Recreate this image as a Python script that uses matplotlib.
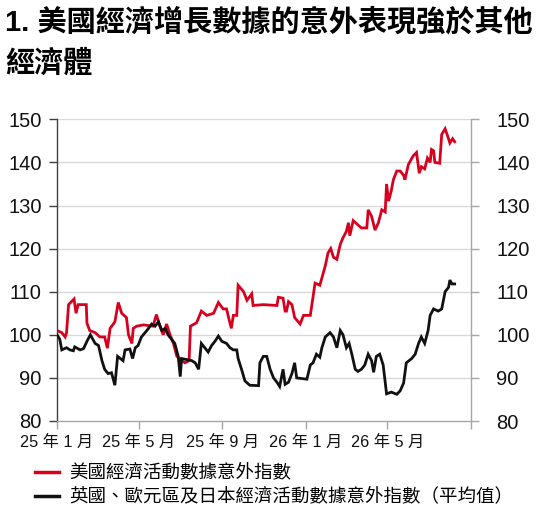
import matplotlib
matplotlib.use('Agg')
import matplotlib.pyplot as plt
from matplotlib import font_manager
from matplotlib.lines import Line2D
from matplotlib.transforms import ScaledTranslation
import datetime as dt

# ---------------- data ----------------
us_dates = ['2025-01-01','2025-01-08','2025-01-13','2025-01-15','2025-01-18','2025-01-26','2025-01-29','2025-02-01',
            '2025-02-13','2025-02-14','2025-02-18','2025-02-26','2025-03-05','2025-03-12','2025-03-16','2025-03-20',
            '2025-03-27','2025-04-01','2025-04-06','2025-04-13','2025-04-16','2025-04-21','2025-04-23','2025-04-28',
            '2025-05-08','2025-05-22','2025-05-27','2025-06-01','2025-06-06','2025-06-11','2025-06-16','2025-06-21',
            '2025-06-26','2025-07-03','2025-07-08','2025-07-14','2025-07-16','2025-07-25','2025-08-01','2025-08-09',
            '2025-08-19','2025-08-26','2025-09-02','2025-09-07','2025-09-10','2025-09-14','2025-09-17','2025-09-22',
            '2025-09-24','2025-10-02','2025-10-07','2025-10-14','2025-10-16','2025-10-31','2025-11-20','2025-11-22',
            '2025-11-29','2025-12-02','2025-12-04','2025-12-07','2025-12-12','2025-12-16','2025-12-24','2025-12-29',
            '2026-01-08','2026-01-15','2026-01-22','2026-01-30','2026-02-03','2026-02-07','2026-02-11','2026-02-16',
            '2026-02-21','2026-02-25','2026-03-02','2026-03-05','2026-03-07','2026-03-12','2026-03-19','2026-03-24',
            '2026-04-01','2026-04-03','2026-04-08','2026-04-13','2026-04-18','2026-04-23','2026-04-28','2026-04-30',
            '2026-05-03','2026-05-07','2026-05-10','2026-05-15','2026-05-20','2026-05-25','2026-05-27','2026-06-01',
            '2026-06-08','2026-06-13','2026-06-17','2026-06-20','2026-06-25','2026-06-29','2026-07-03','2026-07-05',
            '2026-07-08','2026-07-10','2026-07-17','2026-07-20','2026-07-25','2026-07-30','2026-08-01','2026-08-05',
            '2026-08-08']
us_values = [101, 100.5, 99.5, 100.5, 107, 108.3, 105, 107,
             107, 102.7, 101, 100.5, 99.5, 99.5, 96.9, 101.5,
             103, 107.5, 105, 104, 100, 98, 101.5, 102,
             102.3, 102, 104.7, 102, 100, 102.5, 100, 98,
             95, 94, 93.5, 94, 102, 102.8, 105.5, 104.5,
             105, 107.5, 106, 106, 104, 101.5, 104.5, 104.5,
             111.5, 110, 108, 109.5, 106.8, 107, 106.8, 108.7,
             108.5, 105.5, 105.5, 107.7, 107, 104, 102.5, 104.5,
             104.5, 112, 111.5, 116, 119, 120, 118, 117.5,
             121, 122.5, 124, 126, 123, 126.5, 125.5, 124.8,
             124.8, 129, 127.5, 124.3, 126, 129, 128.5, 135,
             131, 133.5, 136, 138, 138, 137, 136, 139.5,
             141.5, 142.3, 137.5, 139, 138.5, 141, 140, 143,
             142.7, 140, 139.8, 146.5, 147.8, 145.5, 144.5, 145.5,
             144.8]

others_dates = ['2025-01-01','2025-01-05','2025-01-08','2025-01-15','2025-01-20','2025-01-25','2025-01-27','2025-02-04',
                '2025-02-09','2025-02-14','2025-02-19','2025-02-26','2025-03-03','2025-03-08','2025-03-12','2025-03-17',
                '2025-03-22','2025-03-27','2025-03-31','2025-04-04','2025-04-08','2025-04-11','2025-04-18','2025-04-22',
                '2025-04-26','2025-04-30','2025-05-05','2025-05-13','2025-05-20','2025-05-25','2025-05-30','2025-06-04',
                '2025-06-09','2025-06-13','2025-06-18','2025-06-23','2025-06-28','2025-07-01','2025-07-03','2025-07-18',
                '2025-07-23','2025-07-28','2025-08-01','2025-08-06','2025-08-11','2025-08-16','2025-08-21','2025-08-26',
                '2025-08-31','2025-09-07','2025-09-12','2025-09-17','2025-09-22','2025-09-24','2025-09-29','2025-10-04',
                '2025-10-11','2025-10-24','2025-10-26','2025-10-31','2025-11-05','2025-11-10','2025-11-15','2025-11-20',
                '2025-11-24','2025-11-29','2025-12-02','2025-12-07','2025-12-12','2025-12-16','2025-12-19','2026-01-03',
                '2026-01-08','2026-01-12','2026-01-17','2026-01-22','2026-01-25','2026-01-30','2026-02-06','2026-02-11',
                '2026-02-16','2026-02-21','2026-02-25','2026-03-02','2026-03-06','2026-03-10','2026-03-15','2026-03-19',
                '2026-03-24','2026-03-29','2026-04-03','2026-04-08','2026-04-11','2026-04-15','2026-04-20','2026-04-25',
                '2026-04-30','2026-05-07','2026-05-15','2026-05-20','2026-05-25','2026-05-29','2026-06-06','2026-06-11',
                '2026-06-16','2026-06-20','2026-06-25','2026-06-30','2026-07-03','2026-07-08','2026-07-15','2026-07-20',
                '2026-07-25','2026-07-30','2026-08-01','2026-08-04','2026-08-08']
others_values = [100, 99, 96.5, 97, 96.5, 96.3, 97.2, 96.5,
                 96.8, 98.5, 100, 98, 97.5, 94, 92, 91,
                 91.2, 88.3, 95, 94.5, 94, 96.5, 96.7, 94.5,
                 97, 97.5, 99.5, 101, 102.5, 102, 103, 101,
                 101.5, 100, 99, 98, 95, 90.3, 94.5, 94,
                 93.5, 92, 98, 97, 96, 97.5, 98.5, 99.7,
                 98.5, 98, 97, 96.5, 96.5, 94.5, 92, 89.3,
                 88.3, 88.2, 93.5, 95, 95, 92, 90, 89,
                 88, 92, 88.5, 89, 91, 93.5, 90, 89.7,
                 93, 93.5, 95.5, 94.8, 97, 99.5, 100.5, 99.5,
                 97, 101, 100, 97, 98, 95.5, 92, 91.5,
                 92, 93, 95.5, 94, 91.3, 95, 95.5, 93,
                 86.3, 86.7, 86.2, 87, 88.8, 93.5, 94.5, 95.5,
                 98, 99.5, 98, 101, 104.5, 106, 105.5, 106,
                 110, 111, 112.7, 111.8, 111.8]

series_names = ['美國經濟活動數據意外指數',
                '英國、歐元區及日本經濟活動數據意外指數（平均值）']
tick_dates = ['2025-01-01', '2025-05-01', '2025-09-01', '2026-01-01', '2026-05-01', '2026-09-01']
tick_labels = ['25 年 1 月', '25 年 5 月', '25 年 9 月', '26 年 1 月', '26 年 5 月', '']
y_ticks = [80, 90, 100, 110, 120, 130, 140, 150]
title_text = '1. 美國經濟增長數據的意外表現強於其他\n經濟體'

# ---------------- fonts ----------------
avail = {f.name for f in font_manager.fontManager.ttflist}
narrow = 'Liberation Sans Narrow' if 'Liberation Sans Narrow' in avail else 'Liberation Sans'
cjk = 'Noto Sans CJK TC'
num_fam = [narrow, cjk, 'DejaVu Sans']
title_fam = ['Liberation Sans', cjk, 'DejaVu Sans']
plt.rcParams['font.family'] = [cjk, 'DejaVu Sans']

def to_dt(s):
    return dt.datetime.strptime(s, '%Y-%m-%d')

RED = '#D7001E'
BLACK = '#111111'
GRID = '#D9D9D9'
GREY = '#A6A6A6'

fig = plt.figure(figsize=(5.45, 5.13), dpi=100)
ax = fig.add_axes([57/545, 1-421/513, (471-57)/545, (421-119.3)/513])

ax.plot([to_dt(d) for d in us_dates], us_values, color=RED, lw=2.0, zorder=3, solid_joinstyle='miter')
ax.plot([to_dt(d) for d in others_dates], others_values, color=BLACK, lw=2.0, zorder=3, solid_joinstyle='miter')

ax.set_xlim(to_dt('2025-01-01'), to_dt('2026-09-01'))
ax.set_ylim(80, 150)
ax.set_yticks(y_ticks)
ax.set_yticklabels([str(v) for v in y_ticks], family=num_fam, fontsize=14.5)
ax.set_xticks([to_dt(d) for d in tick_dates])
ax.set_xticklabels(tick_labels, family=num_fam, fontsize=11.7)

# spread the date labels a little, as in the original layout
for lab, dx in zip(ax.get_xticklabels(), [-9, -4, 1.5, 5, 13, 0]):
    lab.set_transform(lab.get_transform() + ScaledTranslation(dx/100, 0, fig.dpi_scale_trans))

for v in y_ticks[1:]:
    ax.axhline(v, color=GRID, lw=1.0, zorder=1)

for s in ['top', 'right']:
    ax.spines[s].set_visible(False)
ax.spines['left'].set_color('#404040')
ax.spines['left'].set_linewidth(1.0)
ax.spines['bottom'].set_color(GREY)
ax.spines['bottom'].set_linewidth(1.0)
ax.tick_params(axis='y', direction='out', length=6, width=1.0, color='#404040', pad=5, labelcolor='#111111')
ax.tick_params(axis='x', direction='out', length=6, width=1.0, color=GREY, pad=4, labelcolor='#111111')

ax2 = ax.twinx()
ax2.set_ylim(80, 150)
ax2.set_yticks(y_ticks)
ax2.set_yticklabels([str(v) for v in y_ticks], family=num_fam, fontsize=14.5)
for s in ['top', 'left', 'bottom']:
    ax2.spines[s].set_visible(False)
ax2.spines['right'].set_color(GREY)
ax2.spines['right'].set_linewidth(1.0)
ax2.tick_params(axis='y', direction='out', length=6, width=1.0, color=GREY, pad=12, labelcolor='#111111')

fig.text(0.009, 0.984, title_text, ha='left', va='top', fontsize=21.0, fontweight='bold',
         family=title_fam, linespacing=1.55, color='#000000')

handles = [Line2D([], [], color=RED, lw=2.5), Line2D([], [], color=BLACK, lw=2.5)]
fig.legend(handles, series_names, loc='upper left', bbox_to_anchor=(35/545, 1-464/513),
           frameon=False, fontsize=13.3, handlelength=1.3, handletextpad=0.55,
           labelspacing=0.35, borderpad=0, borderaxespad=0)

fig.savefig('out.png', dpi=100)
